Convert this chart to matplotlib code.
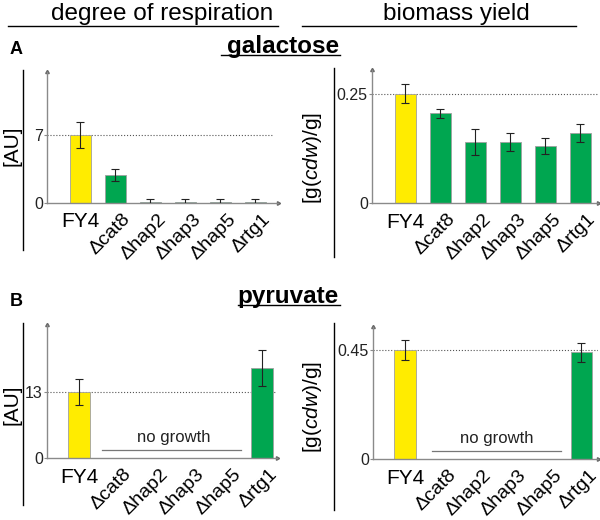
import matplotlib
matplotlib.use('Agg')
import matplotlib.pyplot as plt
import matplotlib.transforms as mtransforms
import numpy as np

plt.rcParams['font.family'] = ['Liberation Sans', 'DejaVu Sans']
plt.rcParams['mathtext.fontset'] = 'custom'
plt.rcParams['mathtext.rm'] = 'Liberation Sans'
plt.rcParams['mathtext.it'] = 'Liberation Sans:italic'

# data
strains = ['FY4', 'Δcat8', 'Δhap2', 'Δhap3', 'Δhap5', 'Δrtg1']
resp_gal = [7.0, 2.9, 0.1, 0.1, 0.1, 0.1]
resp_gal_err = [1.3, 0.6, 0.35, 0.35, 0.35, 0.35]
yield_gal = [0.25, 0.205, 0.139, 0.139, 0.130, 0.160]
yield_gal_err = [0.021, 0.010, 0.030, 0.021, 0.019, 0.020]
resp_pyr = [13.0, np.nan, np.nan, np.nan, np.nan, 17.7]
resp_pyr_err = [2.6, np.nan, np.nan, np.nan, np.nan, 3.6]
yield_pyr = [0.45, np.nan, np.nan, np.nan, np.nan, 0.44]
yield_pyr_err = [0.04, np.nan, np.nan, np.nan, np.nan, 0.041]

yellow = '#ffec00'
green = '#00a650'
colors = [yellow] + [green] * 5

W, H = 600, 520
fig = plt.figure(figsize=(6, 5.2), dpi=100)


def px_axes(x0, x1, yzero, ytop):
    return fig.add_axes([x0 / W, (H - yzero) / H, (x1 - x0) / W, (yzero - ytop) / H])


def panel(ax, vals, errs, ymax, ref, reflabel, xlim, ref_end, no_growth=None):
    x = np.arange(len(strains))
    vals = np.array(vals, dtype=float)
    errs = np.array(errs, dtype=float)
    ok = ~np.isnan(vals)
    ax.bar(x[ok], vals[ok], width=0.6, color=np.array(colors)[ok],
           edgecolor='#a0a0a0', linewidth=0.6, zorder=2)
    ax.errorbar(x[ok], vals[ok], yerr=errs[ok], fmt='none', ecolor='#222222',
                elinewidth=0.8, capsize=3, capthick=0.8, zorder=3)
    ax.set_xlim(*xlim)
    ax.set_ylim(0, ymax)
    ax.axhline(ref, xmin=0, xmax=ref_end, ls=':', color='#555555', lw=0.8, zorder=1)
    for s in ['top', 'right']:
        ax.spines[s].set_visible(False)
    for s in ['left', 'bottom']:
        ax.spines[s].set_color('#8a8a8a')
        ax.spines[s].set_linewidth(1.0)
    ax.plot(0, 1, marker=(3, 0, 0), ms=3, color='#666666', transform=ax.transAxes, clip_on=False)
    ax.plot(1, 0, marker=(3, 0, -90), ms=3, color='#666666', transform=ax.transAxes, clip_on=False)
    ax.set_yticks([0, ref])
    ax.set_yticklabels(['0', reflabel], fontsize=11.5, color='#222222')
    ax.tick_params(axis='y', length=2, pad=1, color='#8a8a8a')
    ax.set_xticks(x)
    ax.set_xticklabels(strains, fontsize=15)
    ax.tick_params(axis='x', length=0, pad=4)
    for i, t in enumerate(ax.get_xticklabels()):
        if i == 0:
            t.set_va('top')
            t.set_y(-0.03)
        else:
            t.set_rotation(45)
            t.set_ha('right')
            t.set_rotation_mode('anchor')
            t.set_fontsize(14)
            t.set_transform(t.get_transform() + mtransforms.ScaledTranslation(7 / 100, -2 / 100, fig.dpi_scale_trans))
    if no_growth is not None:
        tr = mtransforms.blended_transform_factory(ax.transData, ax.transAxes)
        ax.plot([no_growth[0], no_growth[1]], [0.057, 0.057], color='#777777', lw=0.9, transform=tr)
        ax.text(2.6, 0.1, 'no growth', fontsize=12, ha='center', va='bottom', transform=tr, color='#222222')


axA1 = px_axes(47, 278, 203, 72)
panel(axA1, resp_gal, resp_gal_err, 13.5, 7, '7', (-0.943, 5.657), (272 - 47) / 231)
axA2 = px_axes(372, 598, 203, 70)
panel(axA2, yield_gal, yield_gal_err, 0.304, 0.25, '0.25', (-0.943, 5.514), 1.0)
axB1 = px_axes(47, 277, 458, 325)
panel(axB1, resp_pyr, resp_pyr_err, 26.2, 13, '13', (-0.874, 5.41), 1.0, no_growth=(0.63, 4.43))
axB2 = px_axes(373, 598, 459, 327)
panel(axB2, yield_pyr, yield_pyr_err, 0.545, 0.45, '0.45', (-0.906, 5.47), 1.0, no_growth=(0.78, 4.41))


def fline(x0, y0, x1, y1, **kw):
    fig.add_artist(plt.Line2D([x0 / W, x1 / W], [1 - y0 / H, 1 - y1 / H], transform=fig.transFigure, **kw))


def ftext(x, y, s, **kw):
    fig.text(x / W, 1 - y / H, s, **kw)


# column headers
ftext(162, 14, 'degree of respiration', fontsize=17.5, ha='center', va='center')
ftext(456, 14, 'biomass yield', fontsize=17.5, ha='center', va='center')
fline(8, 26, 278, 26, color='black', lw=1)
fline(302, 26, 576, 26, color='black', lw=1)

# panel letters and carbon sources
ftext(10, 50, 'A', fontsize=13, fontweight='bold', ha='left', va='center')
ftext(10, 302, 'B', fontsize=13, fontweight='bold', ha='left', va='center')
ftext(283, 46, 'galactose', fontsize=17.5, fontweight='bold', ha='center', va='center')
fline(221, 55, 340, 55, color='black', lw=1)
ftext(288, 296, 'pyruvate', fontsize=17.5, fontweight='bold', ha='center', va='center')
fline(238, 305, 340, 305, color='black', lw=1)

# separators and y labels
fline(23, 70, 23, 250, color='black', lw=1)
fline(334, 68, 334, 257, color='black', lw=1)
fline(23, 323, 23, 505, color='black', lw=1)
fline(334, 323, 334, 510, color='black', lw=1)
ftext(12, 146, '[AU]', fontsize=15, rotation=90, ha='center', va='center')
ftext(12, 405, '[AU]', fontsize=15, rotation=90, ha='center', va='center')
ftext(313, 158, r'[g($\mathit{cdw}$)/g]', fontsize=15, rotation=90, ha='center', va='center')
ftext(313, 407, r'[g($\mathit{cdw}$)/g]', fontsize=15, rotation=90, ha='center', va='center')

fig.savefig('out.png', dpi=100)
